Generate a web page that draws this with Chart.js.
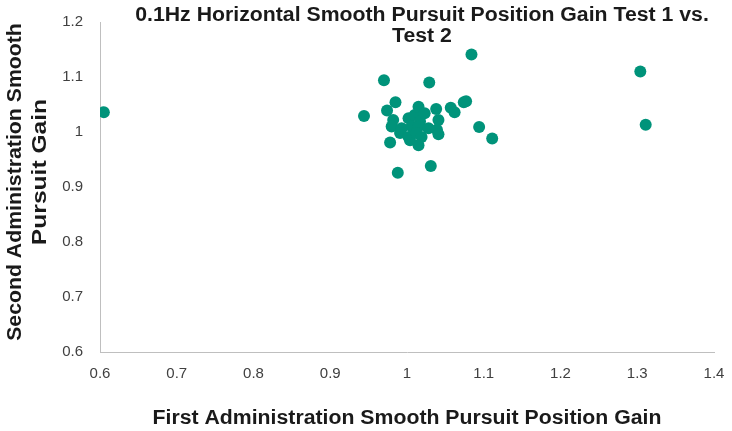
<!DOCTYPE html>
<html>
<head>
<meta charset="utf-8">
<script src="https://cdn.jsdelivr.net/npm/chart.js@4/dist/chart.umd.min.js"></script>
<style>
html,body{margin:0;padding:0;background:#fff;}
#wrap{width:732px;height:431px;}
</style>
</head>
<body>
<div id="wrap"><canvas id="c" width="732" height="431"></canvas></div>
<script>
const chartTitle = ["0.1Hz Horizontal Smooth Pursuit Position Gain Test 1 vs.", "Test 2"];
const xAxisTitle = "First Administration Smooth Pursuit Position Gain";
const yAxisTitle = ["Second Administration Smooth", "Pursuit Gain"];

const firstGain = [
  0.605, 0.944, 0.970, 0.974, 0.985, 0.982, 0.980, 0.993, 0.991, 0.978,
  0.988, 1.002, 1.010, 1.015, 1.017, 1.023, 1.006, 1.015, 1.028, 1.002,
  1.004, 1.012, 1.019, 1.015, 1.029, 1.031, 1.038, 1.041, 1.039, 1.041,
  1.057, 1.062, 1.074, 1.077, 1.084, 1.094, 1.111, 1.304, 1.311
];
const secondGain = [
  1.036, 1.029, 1.094, 1.039, 1.054, 1.022, 1.010, 1.007, 0.998, 0.981,
  0.926, 1.025, 1.031, 1.046, 1.019, 1.034, 1.010, 1.010, 1.007, 0.991,
  0.985, 0.998, 0.991, 0.976, 1.090, 0.938, 1.042, 1.022, 1.004, 0.996,
  1.044, 1.036, 1.054, 1.056, 1.141, 1.009, 0.988, 1.110, 1.013
];
const xMin = 0.6, xMax = 1.4, yMin = 0.6, yMax = 1.2, step = 0.1;

const points = firstGain.map((x, i) => ({x: x, y: secondGain[i]}));

const FONT = '"Liberation Sans", Arial, sans-serif';

function stretchedText(ctx, text, x, y, angle, stretch) {
  ctx.save();
  ctx.translate(x, y);
  ctx.rotate(angle);
  ctx.scale(stretch, 1);
  ctx.fillText(text, 0, 0);
  ctx.restore();
}

const titlePlugin = {
  id: 'textTitles',
  afterDraw(chart) {
    const ctx = chart.ctx;
    const a = chart.chartArea;
    ctx.save();
    ctx.font = 'bold 19.5px ' + FONT;
    ctx.fillStyle = '#1a1a1a';
    ctx.textAlign = 'center';
    ctx.textBaseline = 'alphabetic';
    const cx = (a.left + a.right) / 2 + 15;
    stretchedText(ctx, chartTitle[0], cx, 21, 0, 1.09);
    stretchedText(ctx, chartTitle[1], cx, 42, 0, 1.09);
    stretchedText(ctx, xAxisTitle, (a.left + a.right) / 2, 424, 0, 1.09);
    const cy = (a.top + a.bottom) / 2;
    stretchedText(ctx, yAxisTitle[0], 21, cy - 5, -Math.PI / 2, 1.09);
    ctx.font = 'bold 20.5px ' + FONT;
    stretchedText(ctx, yAxisTitle[1], 46, cy - 15, -Math.PI / 2, 1.2);
    ctx.restore();
  }
};

new Chart(document.getElementById('c'), {
  type: 'scatter',
  data: {
    datasets: [{
      data: points,
      backgroundColor: '#00937A',
      borderWidth: 0,
      pointRadius: 6,
      pointHoverRadius: 6
    }]
  },
  options: {
    responsive: false,
    devicePixelRatio: 1,
    animation: false,
    events: [],
    layout: { padding: { top: 22, right: 18, left: 0, bottom: 0 } },
    plugins: { legend: { display: false }, tooltip: { enabled: false }, title: { display: false } },
    scales: {
      x: {
        type: 'linear',
        min: xMin, max: xMax,
        afterFit(s) { s.height = 79; s.paddingRight = 0; s.paddingLeft = 0; },
        grid: { display: false, drawTicks: false },
        border: { display: true, color: '#BFBFBF', width: 1 },
        ticks: {
          stepSize: step,
          padding: 13,
          color: '#404040',
          font: { family: FONT, size: 15 },
          callback: v => String(+v.toFixed(1))
        },
        title: { display: false }
      },
      y: {
        type: 'linear',
        min: yMin, max: yMax,
        afterFit(s) { s.width = 100; s.paddingTop = 0; s.paddingBottom = 0; },
        grid: { display: false, drawTicks: false },
        border: { display: true, color: '#BFBFBF', width: 1 },
        ticks: {
          stepSize: step,
          padding: 17,
          color: '#404040',
          font: { family: FONT, size: 15 },
          callback: v => String(+v.toFixed(1))
        },
        title: { display: false }
      }
    }
  },
  plugins: [titlePlugin]
});
</script>
</body>
</html>
